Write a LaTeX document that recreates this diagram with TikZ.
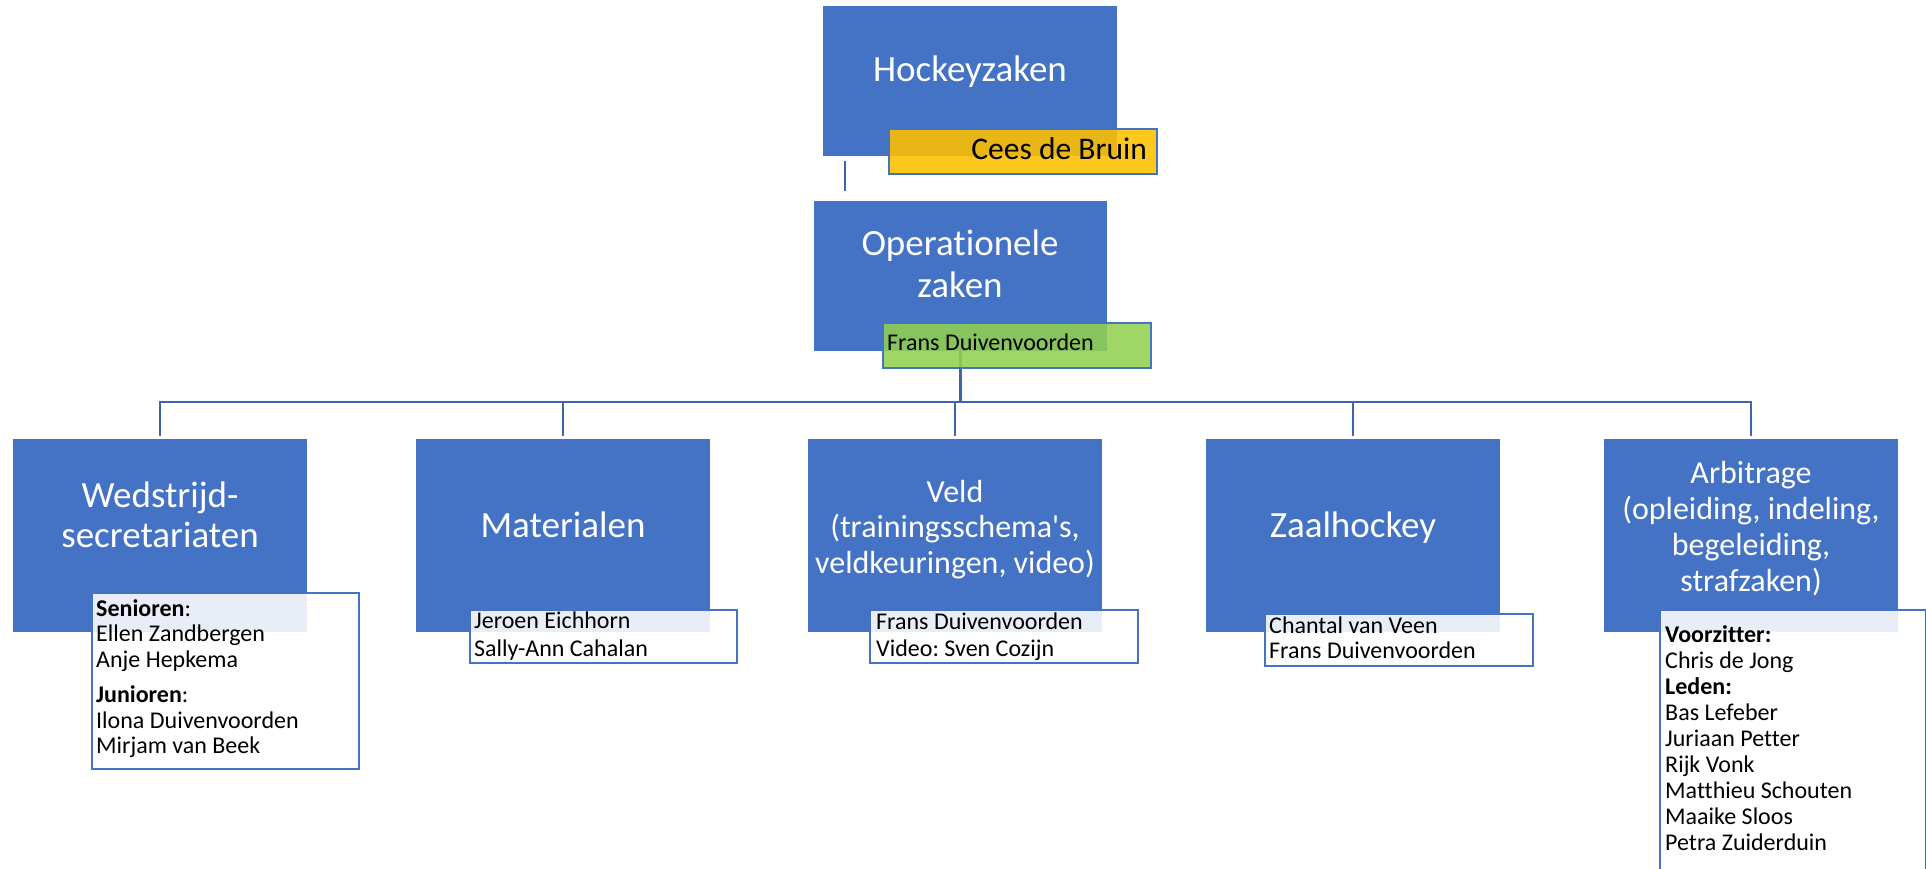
\documentclass[tikz,border=0pt]{standalone}
\usepackage{fontspec}
\setmainfont{Carlito}[Ligatures={TeXOff,CommonOff}]
\usetikzlibrary{backgrounds}
\definecolor{acc}{HTML}{4472C4}
\definecolor{connc}{HTML}{3E64AA}
\definecolor{goldc}{HTML}{FFC000}
\definecolor{limec}{HTML}{92D050}
\tikzset{
  mainbox/.style={rectangle, fill=acc, draw=none, inner sep=0pt, anchor=north west, minimum width=294pt, minimum height=193pt},
  subbox/.style={rectangle, fill=white, fill opacity=0.88, draw=acc, draw opacity=1, line width=2pt, inner sep=0pt, anchor=north west, minimum width=267pt},
  namebox/.style={rectangle, fill opacity=0.88, draw=acc, draw opacity=1, line width=2pt, inner sep=0pt, anchor=north west, minimum width=268pt, minimum height=45pt},
  maintext/.style={text=white, inner sep=0pt, font=\fontsize{37}{40}\selectfont},
  subtext/.style={text=black, inner sep=0pt, anchor=base west, font=\fontsize{24}{26}\selectfont},
  connline/.style={draw=connc, line width=2.5pt},
}
\frenchspacing
\begin{document}
\frenchspacing
\begin{tikzpicture}[x=1pt,y=-1pt]
\useasboundingbox (0,0) rectangle (1926,869);
\clip (0,0) rectangle (1926,869);

% main boxes
\node[mainbox, minimum height=150pt] (hz) at (823,6) {};
\node[mainbox, minimum width=293pt, minimum height=150pt] (op) at (814,201) {};
\node[mainbox] (ws) at (13,439) {};
\node[mainbox] (ma) at (416,439) {};
\node[mainbox] (ve) at (808,439) {};
\node[mainbox] (za) at (1206,439) {};
\node[mainbox] (ar) at (1604,439) {};

% connectors
\coordinate (bus) at (960,402);
\begin{scope}[on background layer]
\draw[connline] ([shift={(22,5)}]hz.south west) -- ([shift={(31,-10)}]op.north west);
\draw[connline, shorten >=3pt] (op.south) -- (op.south |- bus) -| (ws.north);
\draw[connline, shorten >=3pt] (op.south) -- (op.south |- bus) -| (ma.north);
\draw[connline, shorten >=3pt] (op.south) -- (op.south |- bus) -| (ve.north);
\draw[connline, shorten >=3pt] (op.south) -- (op.south |- bus) -| (za.north);
\draw[connline, shorten >=3pt] (op.south) -- (op.south |- bus) -| (ar.north);
\end{scope}

% name boxes
\node[namebox, fill=goldc] (cb) at (888,128) {};
\node[namebox, fill=limec] (fd) at (882,322) {};
\node[subbox, minimum height=176pt] (wsn) at (91,592) {};
\node[subbox, minimum height=53pt] (man) at (469,609) {};
\node[subbox, minimum width=268pt, minimum height=53pt] (ven) at (869,609) {};
\node[subbox, minimum width=268pt, minimum height=52pt] (zan) at (1264,613) {};
\node[subbox, minimum width=266pt, minimum height=290pt] (arn) at (1659,609) {};

% main texts
\node[maintext, anchor=base] (thz) at (970,82) {Hockeyzaken};
\node[maintext, anchor=base, font=\fontsize{37}{42}\selectfont] (top) at (960,255) {\begin{tabular}[t]{@{}c@{}}Operationele\\zaken\end{tabular}};
\node[maintext, anchor=base] (tws) at (160,507) {\begin{tabular}[t]{@{}c@{}}Wedstrijd-\\secretariaten\end{tabular}};
\node[maintext, anchor=base] (tma) at (563,537) {Materialen};
\node[maintext, anchor=base, font=\fontsize{32}{35.5}\selectfont] (tve) at (955,502) {\begin{tabular}[t]{@{}c@{}}Veld\\(trainingsschema's,\\veldkeuringen, video)\end{tabular}};
\node[maintext, anchor=base] (tza) at (1353,537) {Zaalhockey};
\node[maintext, anchor=base, font=\fontsize{32}{36}\selectfont] (tar) at (1751,483) {\begin{tabular}[t]{@{}c@{}}Arbitrage\\(opleiding, indeling,\\begeleiding,\\strafzaken)\end{tabular}};

% name texts
\node[text=black, inner sep=0pt, anchor=base east, font=\fontsize{31.5}{36}\selectfont] (tcb) at (1147,160) {Cees de Bruin};
\node[subtext] (tfd) at (887,350) {Frans Duivenvoorden};
\node[subtext, font=\fontsize{24}{25.5}\selectfont] (twsn) at (96,616) {\begin{tabular}[t]{@{}l@{}}\textbf{Senioren}:\\Ellen Zandbergen\\Anje Hepkema\\[10pt]\textbf{Junioren}:\\Ilona Duivenvoorden\\Mirjam van Beek\end{tabular}};
\node[subtext, font=\fontsize{24}{28}\selectfont] (tman) at (474,628) {\begin{tabular}[t]{@{}l@{}}Jeroen Eichhorn\\Sally-Ann Cahalan\end{tabular}};
\node[subtext, font=\fontsize{24}{27}\selectfont] (tven) at (876,629) {\begin{tabular}[t]{@{}l@{}}Frans Duivenvoorden\\Video: Sven Cozijn\end{tabular}};
\node[subtext, font=\fontsize{24}{25}\selectfont] (tzan) at (1269,633) {\begin{tabular}[t]{@{}l@{}}Chantal van Veen\\Frans Duivenvoorden\end{tabular}};
\node[subtext, font=\fontsize{24}{26.1}\selectfont] (tarn) at (1665,642) {\begin{tabular}[t]{@{}l@{}}\textbf{Voorzitter:}\\Chris de Jong\\\textbf{Leden:}\\Bas Lefeber\\Juriaan Petter\\Rijk Vonk\\Matthieu Schouten\\Maaike Sloos\\Petra Zuiderduin\end{tabular}};
\end{tikzpicture}
\end{document}
